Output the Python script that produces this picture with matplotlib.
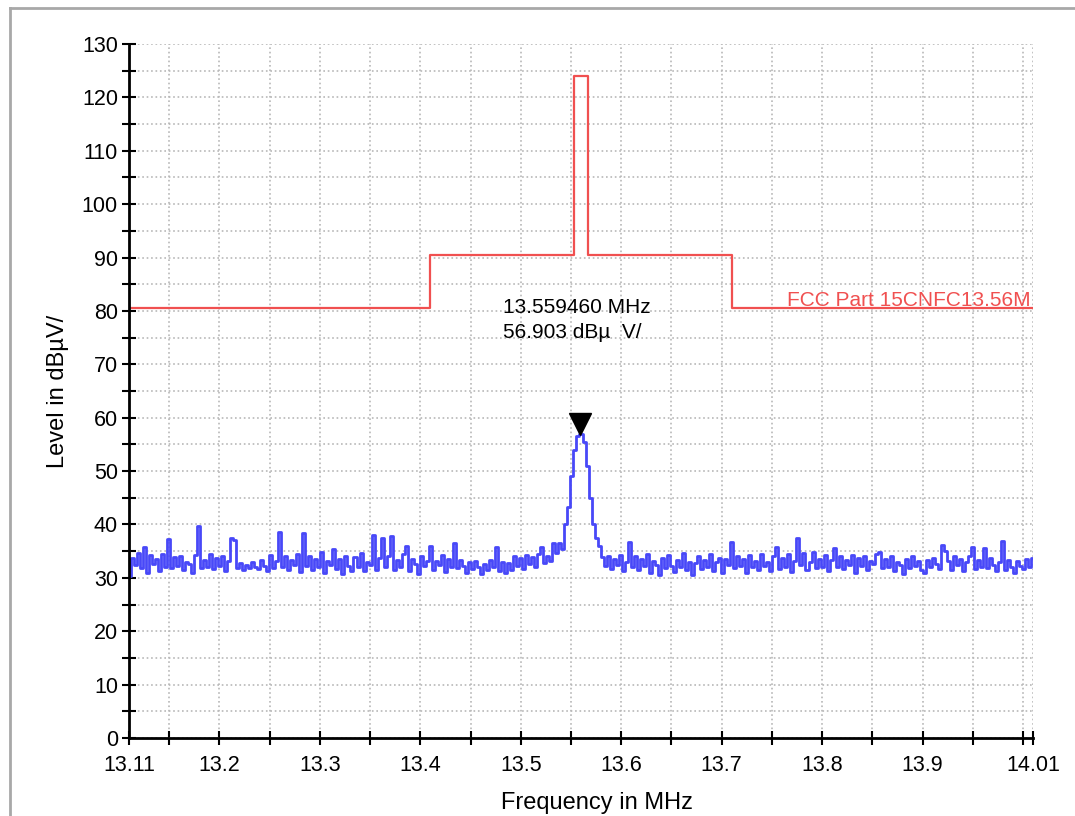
import matplotlib
matplotlib.use("Agg")
import matplotlib.pyplot as plt
from matplotlib.lines import Line2D
import numpy as np

plt.rcParams['font.family'] = ['Liberation Sans', 'DejaVu Sans']

# measured trace, 301 points from 13.11 to 14.01 MHz
freq = np.linspace(13.11, 14.01, 301)
level = [
    30.4, 33.8, 32.4, 34.6, 31.9, 35.8, 31.0, 34.2, 32.6, 33.5,
    31.2, 34.4, 32.0, 37.3, 31.8, 33.9, 32.3, 34.1, 31.4, 33.0,
    32.6, 31.0, 34.3, 39.8, 31.9, 33.4, 32.1, 34.5, 31.6, 33.7,
    32.2, 34.0, 31.3, 33.1, 37.5, 37.0, 31.9, 32.7, 31.5, 32.4,
    31.8, 33.0, 32.0, 31.6, 33.4, 32.3, 31.2, 34.2, 31.9, 33.1,
    38.6, 32.0, 34.0, 31.4, 33.3, 32.5, 34.4, 31.1, 38.4, 32.2,
    34.0, 31.5, 33.6, 32.1, 34.8, 30.9, 33.2, 32.4, 35.4, 31.7,
    33.5, 30.8, 34.1, 32.3, 31.3, 33.9, 32.0, 34.6, 31.2, 33.0,
    32.5, 38.0, 31.4, 33.8, 37.5, 32.0, 34.1, 37.8, 31.5, 33.3,
    32.0, 34.4, 36.0, 31.2, 33.5, 32.6, 30.7, 34.0, 32.2, 33.1,
    36.0, 31.5, 33.2, 32.4, 34.3, 31.1, 33.6, 32.0, 36.5, 31.8,
    33.4, 32.3, 31.0, 32.9, 31.6, 33.2, 32.0, 30.8, 32.6, 31.4,
    33.3, 32.0, 35.8, 31.2, 33.0, 30.9, 32.7, 31.5, 34.0, 32.3,
    33.8, 31.7, 34.2, 32.6, 33.9, 32.1, 34.5, 35.8, 32.8, 34.0,
    33.2, 36.5, 34.6, 36.5, 35.4, 40.0, 43.3, 49.0, 54.0, 56.5,
    56.9, 55.5, 51.0, 45.0, 40.0, 37.5, 36.0, 33.9, 32.2, 34.1,
    31.6, 33.5, 32.4, 34.3, 31.2, 33.0, 36.7, 32.1, 34.0, 31.4,
    33.6, 32.2, 34.5, 31.0, 33.1, 32.5, 30.6, 33.8, 31.9, 34.2,
    32.3, 31.1, 33.4, 32.0, 34.6, 31.5, 33.0, 30.5, 32.8, 34.0,
    31.7, 33.3, 32.1, 34.4, 31.3, 32.9, 33.8, 31.0, 33.5, 32.4,
    36.7, 31.8, 34.0, 32.2, 33.6, 30.9, 34.3, 32.0, 33.1, 31.4,
    34.5, 32.3, 33.0, 31.2, 34.1, 35.8, 31.6, 33.7, 32.0, 34.4,
    31.1, 33.2, 37.5, 32.4, 34.6, 31.5, 33.0, 34.8, 31.9, 33.6,
    32.0, 34.2, 31.3, 33.4, 35.6, 32.1, 34.0, 31.6, 33.3, 32.5,
    34.3, 31.0, 33.7, 32.2, 34.0, 31.4, 33.1, 32.6, 34.5, 34.8,
    31.8, 33.5, 32.0, 34.1, 31.2, 33.0, 32.4, 30.8, 33.6, 31.9,
    34.0, 32.3, 33.2, 31.5, 30.9, 33.4, 32.1, 33.8, 32.6, 31.7,
    36.1, 35.0, 33.2, 31.4, 34.0, 32.5, 33.6, 31.2, 32.9, 34.1,
    35.8, 31.6, 33.3, 32.0, 35.6, 31.8, 33.7, 32.4, 31.3, 33.0,
    36.9, 31.5, 33.4, 32.1, 31.0, 33.2, 32.3, 31.6, 33.5, 32.0,
    33.8,
]

# FCC Part 15C limit (steps)
limit_f = [13.11, 13.41, 13.553, 13.567, 13.71, 14.01]
limit_lvl = [80.5, 90.5, 124.0, 90.5, 80.5, 80.5]
limit_name = 'FCC Part 15CNFC13.56M'

# marker
peak_f = 13.55946
peak_lvl = 56.903

x_ticks = [13.11, 13.15, 13.2, 13.25, 13.3, 13.35, 13.4, 13.45, 13.5, 13.55,
           13.6, 13.65, 13.7, 13.75, 13.8, 13.85, 13.9, 13.95, 14.0, 14.01]
x_labels = {13.11: '13.11', 13.2: '13.2', 13.3: '13.3', 13.4: '13.4',
            13.5: '13.5', 13.6: '13.6', 13.7: '13.7', 13.8: '13.8',
            13.9: '13.9', 14.01: '14.01'}
y_ticks = np.arange(0, 131, 5)

fig = plt.figure(figsize=(10.75, 8.16), dpi=100)
ax = fig.add_axes([129 / 1075, 78 / 816, 904 / 1075, 694 / 816])

ax.plot(freq, level, color='#4848f8', lw=2.0, drawstyle='steps-mid')
ax.plot(limit_f, limit_lvl, color='#f05050', lw=1.6, drawstyle='steps-post')
ax.plot([peak_f], [peak_lvl + 1.9], marker='v', color='black', ms=16, ls='none')

ax.text(13.4825, 80.6, '%.6f MHz' % peak_f, fontsize=15, va='center', ha='left')
ax.text(13.4825, 75.9, '%.3f dBµ  V/' % peak_lvl, fontsize=15, va='center', ha='left')
ax.text(14.008, 82.0, limit_name, color='#f05050', fontsize=15, va='center', ha='right')

ax.set_xlim(13.11, 14.01)
ax.set_ylim(0, 130)
ax.set_xticks(x_ticks)
ax.set_xticklabels([x_labels.get(t, '') for t in x_ticks])
ax.set_yticks(y_ticks)
ax.set_yticklabels([str(v) if v % 10 == 0 else '' for v in y_ticks])
ax.tick_params(axis='both', direction='inout', length=10, width=1.5, labelsize=15.5)
ax.tick_params(axis='x', pad=7)
ax.tick_params(axis='y', pad=3)

ax.grid(True, color='#b8b8b8', ls=':', lw=1.2)
ax.set_axisbelow(True)
for s in ['top', 'right']:
    ax.spines[s].set_visible(False)
for s in ['left', 'bottom']:
    ax.spines[s].set_linewidth(2)

ax.set_ylabel('Level in dBµV/', fontsize=17, labelpad=9)
ax.set_xlabel('Frequency in MHz', fontsize=17)
ax.xaxis.set_label_coords((597 - 129) / 904, -0.078)

# outer frame of the report window
fig.add_artist(Line2D([10 / 1075, 10 / 1075], [0, 1 - 8 / 816], color='#a8a8a8', lw=2,
                      transform=fig.transFigure))
fig.add_artist(Line2D([10 / 1075, 1], [1 - 8 / 816, 1 - 8 / 816], color='#a8a8a8', lw=2,
                      transform=fig.transFigure))

fig.savefig('out.png', dpi=100)
